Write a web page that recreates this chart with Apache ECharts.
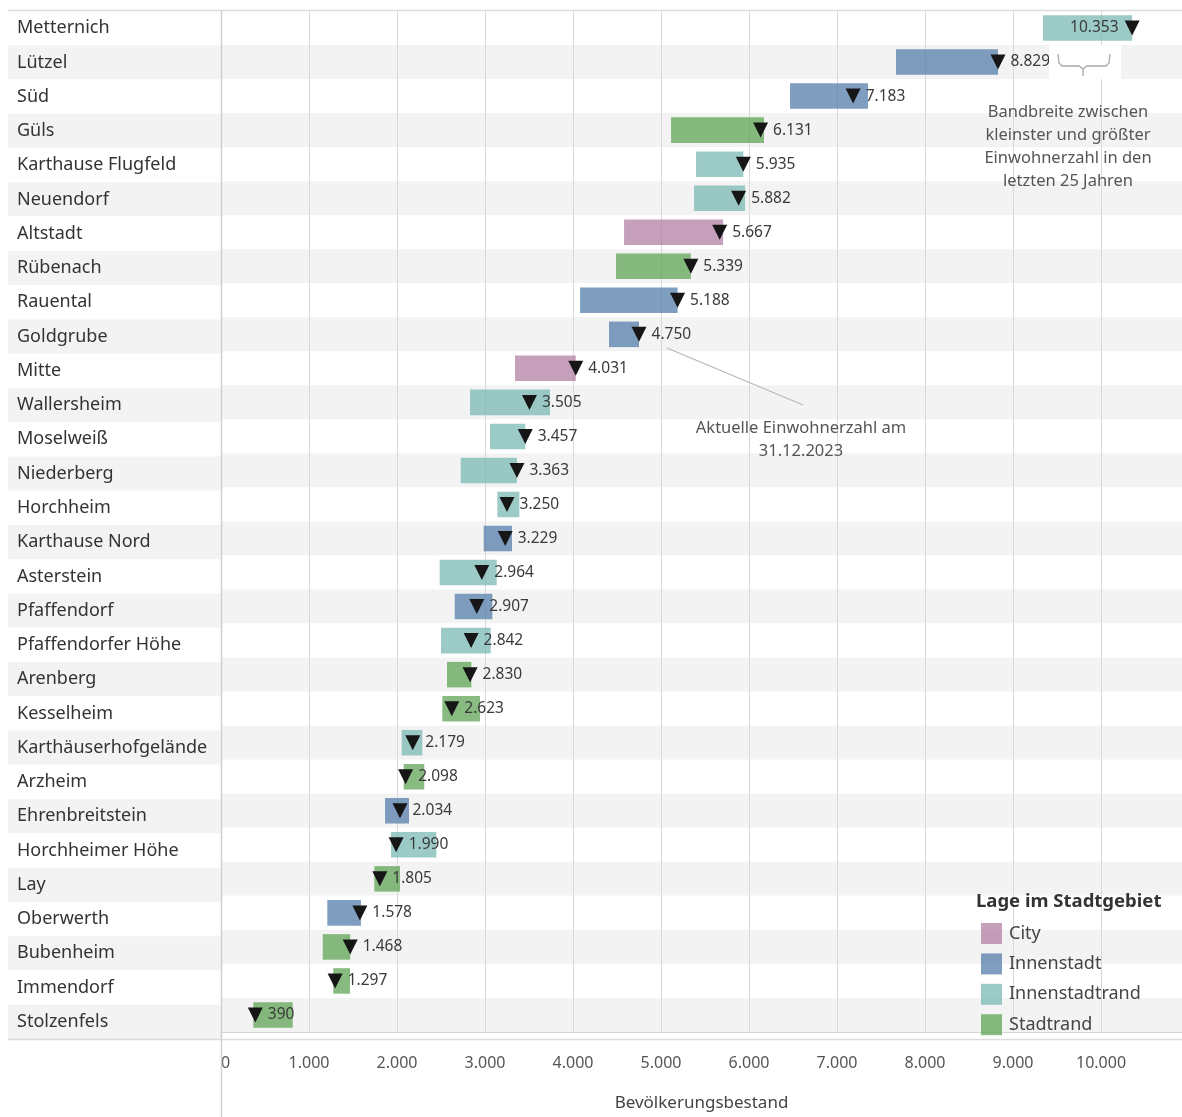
<!DOCTYPE html>
<html lang="de">
<head>
<meta charset="utf-8">
<title>Bevölkerungsbestand nach Stadtteilen</title>
<script src="https://cdn.jsdelivr.net/npm/echarts@6/dist/echarts.min.js"></script>
<style>
  html, body { margin: 0; padding: 0; background: #ffffff; }
  #chart { width: 1182px; height: 1117px; }
</style>
</head>
<body>
<div id="chart"></div>
<script>
// Stadtteile, von oben nach unten
const districts = [
  'Metternich', 'Lützel', 'Süd', 'Güls', 'Karthause Flugfeld', 'Neuendorf',
  'Altstadt', 'Rübenach', 'Rauental', 'Goldgrube', 'Mitte', 'Wallersheim',
  'Moselweiß', 'Niederberg', 'Horchheim', 'Karthause Nord', 'Asterstein',
  'Pfaffendorf', 'Pfaffendorfer Höhe', 'Arenberg', 'Kesselheim',
  'Karthäuserhofgelände', 'Arzheim', 'Ehrenbreitstein', 'Horchheimer Höhe',
  'Lay', 'Oberwerth', 'Bubenheim', 'Immendorf', 'Stolzenfels'
];

// Lage im Stadtgebiet je Stadtteil
const lage = [
  'Innenstadtrand', 'Innenstadt', 'Innenstadt', 'Stadtrand', 'Innenstadtrand', 'Innenstadtrand',
  'City', 'Stadtrand', 'Innenstadt', 'Innenstadt', 'City', 'Innenstadtrand',
  'Innenstadtrand', 'Innenstadtrand', 'Innenstadtrand', 'Innenstadt', 'Innenstadtrand',
  'Innenstadt', 'Innenstadtrand', 'Stadtrand', 'Stadtrand',
  'Innenstadtrand', 'Stadtrand', 'Innenstadt', 'Innenstadtrand',
  'Stadtrand', 'Innenstadt', 'Stadtrand', 'Stadtrand', 'Stadtrand'
];

// kleinste Einwohnerzahl der letzten 25 Jahre
const minPop = [
  9340, 7670, 6466, 5114, 5398, 5375,
  4580, 4489, 4080, 4409, 3341, 2830,
  3057, 2724, 3140, 2985, 2485,
  2656, 2500, 2568, 2515,
  2053, 2076, 1864, 1932,
  1742, 1208, 1156, 1276, 367
];

// größte Einwohnerzahl der letzten 25 Jahre
const maxPop = [
  10353, 8829, 7352, 6170, 5935, 5955,
  5705, 5339, 5188, 4750, 4031, 3739,
  3457, 3363, 3390, 3307, 3133,
  3083, 3065, 2845, 2943,
  2288, 2310, 2136, 2447,
  2034, 1590, 1468, 1466, 815
];

// Einwohnerzahl am 31.12.2023
const currentPop = [
  10353, 8829, 7183, 6131, 5935, 5882,
  5667, 5339, 5188, 4750, 4031, 3505,
  3457, 3363, 3250, 3229, 2964,
  2907, 2842, 2830, 2623,
  2179, 2098, 2034, 1990,
  1805, 1578, 1468, 1297, 390
];

const groups = ['City', 'Innenstadt', 'Innenstadtrand', 'Stadtrand'];
const groupColors = {
  'City': 'rgba(176,122,161,0.72)',
  'Innenstadt': 'rgba(78,121,167,0.72)',
  'Innenstadtrand': 'rgba(118,183,178,0.72)',
  'Stadtrand': 'rgba(89,161,79,0.72)'
};

const FONT = '"Noto Sans", "Open Sans", sans-serif';
const fmt = v => String(Math.round(v)).replace(/\B(?=(\d{3})+(?!\d))/g, '.');

const chart = echarts.init(document.getElementById('chart'), null, { renderer: 'canvas' });

// Bandbreite (min..max) als Balken je Lage
const rangeSeries = groups.map(g => ({
  type: 'custom',
  name: g,
  xAxisIndex: 1,
  yAxisIndex: 1,
  z: 2,
  itemStyle: { color: groupColors[g] },
  encode: { x: [0, 1], y: 2 },
  data: districts
    .map((d, i) => (lage[i] === g ? [minPop[i], maxPop[i], i] : null))
    .filter(Boolean),
  renderItem: (params, api) => {
    const row = api.value(2);
    const a = api.coord([api.value(0), row]);
    const b = api.coord([api.value(1), row]);
    const h = api.size([0, 1])[1] * 0.75;
    return {
      type: 'rect',
      shape: { x: a[0], y: a[1] - h / 2, width: b[0] - a[0], height: h },
      style: api.style()
    };
  }
}));

// aktuelle Einwohnerzahl als Dreieck mit Wert
const currentSeries = {
  type: 'scatter',
  name: 'Aktuell',
  xAxisIndex: 1,
  yAxisIndex: 1,
  z: 5,
  symbol: 'triangle',
  symbolRotate: 180,
  symbolSize: [15, 15],
  itemStyle: { color: '#161616', opacity: 1 },
  label: {
    show: true,
    position: 'right',
    distance: 5,
    color: '#3a3a3a',
    fontFamily: FONT,
    fontSize: 15.5,
    padding: [4, 0, 0, 0],
    formatter: p => fmt(p.value[0])
  },
  data: currentPop.map((v, i) => {
    const item = { value: [v, i] };
    if (i === 0) item.label = { position: 'left', distance: 6 };
    return item;
  })
};

const bandColors = ['#ffffff', '#f3f3f3'];

chart.setOption({
  animation: false,
  backgroundColor: '#ffffff',
  textStyle: { fontFamily: FONT },
  title: [{
    text: 'Lage im Stadtgebiet',
    left: 976,
    top: 892,
    padding: 0,
    textStyle: { fontFamily: FONT, fontSize: 18.5, fontWeight: 'bold', color: '#333333' }
  }],
  legend: {
    data: groups,
    orient: 'vertical',
    left: 981,
    top: 923,
    padding: 0,
    icon: 'rect',
    itemWidth: 21,
    itemHeight: 21,
    itemGap: 9.4,
    textStyle: { fontFamily: FONT, fontSize: 18, color: '#444444', padding: [3, 0, 0, 2] }
  },
  grid: [
    { left: 8, width: 213, top: 11, bottom: 78 },
    { left: 221, right: 0, top: 11, bottom: 78 }
  ],
  xAxis: [
    { gridIndex: 0, type: 'value', show: false, min: 0, max: 1 },
    {
      gridIndex: 1,
      type: 'value',
      min: 0,
      max: 10920,
      interval: 1000,
      name: 'Bevölkerungsbestand',
      nameLocation: 'middle',
      nameGap: 63,
      nameTextStyle: { fontFamily: FONT, fontSize: 17, color: '#444444' },
      axisLine: { show: true, lineStyle: { color: '#d6d6d6' } },
      axisTick: { show: false },
      axisLabel: {
        margin: 23,
        fontFamily: FONT,
        fontSize: 16,
        color: '#555555',
        showMaxLabel: false,
        alignMinLabel: 'left',
        formatter: v => fmt(v)
      },
      splitLine: { show: true, showMaxLine: false, lineStyle: { color: '#d9d9d9', width: 1 } }
    }
  ],
  yAxis: [
    {
      gridIndex: 0,
      type: 'category',
      data: districts,
      inverse: true,
      axisLine: { show: false },
      axisTick: { show: false },
      axisLabel: {
        inside: true,
        margin: 9,
        fontFamily: FONT,
        fontSize: 18,
        color: '#333333',
        padding: [7, 0, 0, 0]
      },
      splitLine: { show: false },
      splitArea: { show: true, areaStyle: { color: bandColors } }
    },
    {
      gridIndex: 1,
      type: 'category',
      data: districts,
      inverse: true,
      axisLine: { show: false },
      axisTick: { show: false },
      axisLabel: { show: false },
      splitLine: { show: false },
      splitArea: { show: true, areaStyle: { color: bandColors } }
    }
  ],
  series: [...rangeSeries, currentSeries],
  graphic: [
    // Rahmenlinien
    { type: 'line', z: 50, shape: { x1: 8, y1: 10.5, x2: 1182, y2: 10.5 }, style: { stroke: '#dcdcdc', lineWidth: 1.5 } },
    { type: 'line', z: 50, shape: { x1: 8, y1: 1039.5, x2: 1182, y2: 1039.5 }, style: { stroke: '#dcdcdc', lineWidth: 1.5 } },
    { type: 'line', z: 50, shape: { x1: 221.5, y1: 10, x2: 221.5, y2: 1117 }, style: { stroke: '#d0d0d0', lineWidth: 1.5 } },
    // Erläuterung zur Bandbreite
    { type: 'rect', z: 60, shape: { x: 1049, y: 45, width: 72, height: 34 }, style: { fill: '#ffffff' } },
    {
      type: 'polyline', z: 61,
      shape: { points: [[1058, 54], [1059, 63], [1062, 66], [1079, 66], [1083, 69], [1083, 76], [1083, 69], [1087, 66], [1106, 66], [1109, 63], [1110, 54]] },
      style: { stroke: '#a8a8a8', lineWidth: 1.3, fill: null }
    },
    {
      type: 'text', z: 61, x: 1068, y: 101,
      style: {
        text: 'Bandbreite zwischen\nkleinster und größter\nEinwohnerzahl in den\nletzten 25 Jahren',
        align: 'center', verticalAlign: 'top', lineHeight: 23,
        font: '16.5px ' + FONT, fill: '#555555'
      }
    },
    // Erläuterung zur aktuellen Einwohnerzahl
    { type: 'line', z: 61, shape: { x1: 667, y1: 348, x2: 803, y2: 405 }, style: { stroke: '#b8b8b8', lineWidth: 1.2 } },
    {
      type: 'text', z: 61, x: 801, y: 417,
      style: {
        text: 'Aktuelle Einwohnerzahl am\n31.12.2023',
        align: 'center', verticalAlign: 'top', lineHeight: 23,
        font: '16.5px ' + FONT, fill: '#555555'
      }
    }
  ]
});
</script>
</body>
</html>
